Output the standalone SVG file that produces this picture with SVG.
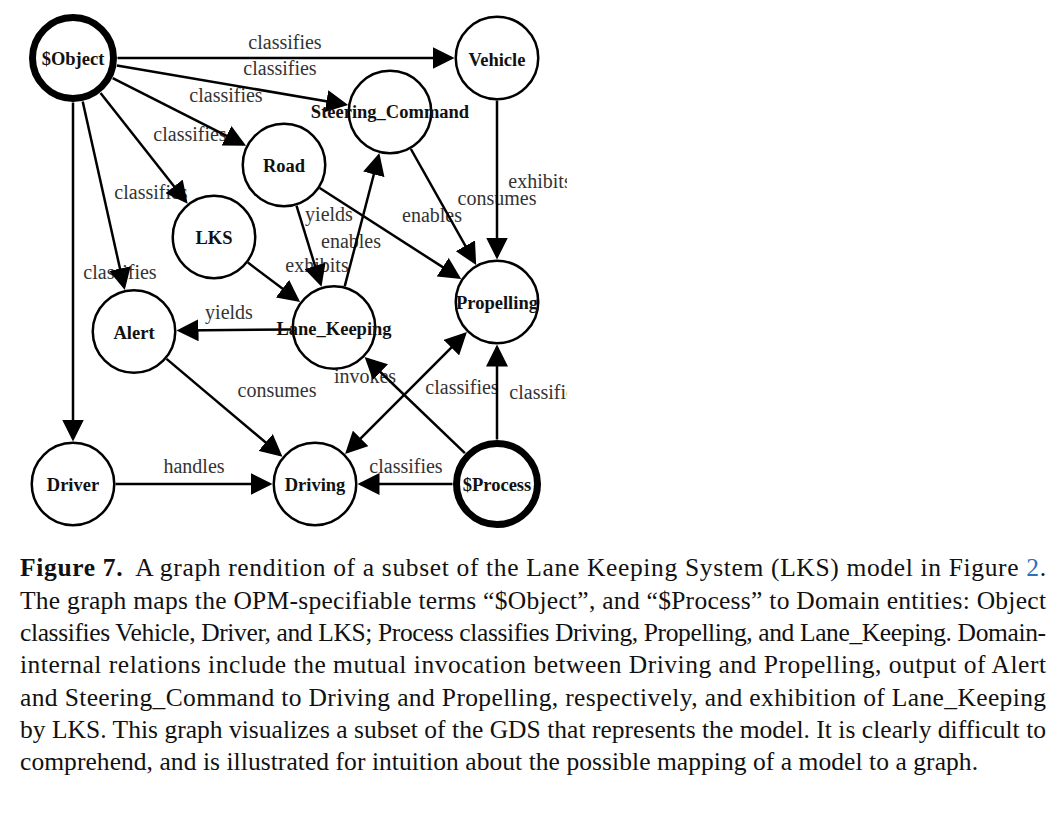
<svg xmlns="http://www.w3.org/2000/svg" width="1064" height="814" viewBox="0 0 1064 814">
<style>
.edge{stroke:#000;stroke-width:2.5;fill:none;marker-end:url(#arr)}
.lbl{font-family:"Liberation Serif","Times New Roman",serif;font-size:20px;fill:#333;text-anchor:middle}
.node circle{fill:#fff;stroke:#000;stroke-width:2.5}
.node.thick circle{stroke-width:7}
.node text{font-family:"Liberation Serif","Times New Roman",serif;font-size:18.5px;font-weight:bold;fill:#111;text-anchor:middle}
.cap{font-family:"Liberation Serif","Times New Roman",serif;font-size:25.5px;fill:#111}
</style>
<defs>
<marker id="arr" markerUnits="userSpaceOnUse" markerWidth="22" markerHeight="22" refX="19" refY="11" orient="auto"><path d="M0,0 L22,11 L0,22 z" fill="#000"/></marker>
<marker id="arrs" markerUnits="userSpaceOnUse" markerWidth="22" markerHeight="22" refX="19" refY="11" orient="auto-start-reverse"><path d="M0,0 L22,11 L0,22 z" fill="#000"/></marker>
<clipPath id="gclip"><rect x="0" y="0" width="567" height="535"/></clipPath>
</defs>
<rect width="1064" height="814" fill="#fff"/>
<g clip-path="url(#gclip)">
<g id="edge-labels">
<text class="lbl" x="285" y="49">classifies</text>
<text class="lbl" x="280" y="75">classifies</text>
<text class="lbl" x="226" y="102">classifies</text>
<text class="lbl" x="190" y="141">classifies</text>
<text class="lbl" x="151" y="199">classifies</text>
<text class="lbl" x="120" y="279">classifies</text>
<text class="lbl" x="229" y="319">yields</text>
<text class="lbl" x="329" y="221">yields</text>
<text class="lbl" x="351" y="248">enables</text>
<text class="lbl" x="317" y="272">exhibits</text>
<text class="lbl" x="432" y="222">enables</text>
<text class="lbl" x="497" y="205">consumes</text>
<text class="lbl" x="540" y="188">exhibits</text>
<text class="lbl" x="277" y="397">consumes</text>
<text class="lbl" x="365" y="383">invokes</text>
<text class="lbl" x="462" y="394">classifies</text>
<text class="lbl" x="546" y="399">classifies</text>
<text class="lbl" x="406" y="473">classifies</text>
<text class="lbl" x="194" y="473">handles</text>
</g>
<g id="connectors">
<line class="edge" x1="117.5" y1="58" x2="451.5" y2="58"/>
<line class="edge" x1="116.9" y1="65.5" x2="345.2" y2="104.4"/>
<line class="edge" x1="112.7" y1="78.1" x2="243.4" y2="144.4"/>
<line class="edge" x1="100.5" y1="93" x2="185.8" y2="201.3"/>
<line class="edge" x1="82.7" y1="101.4" x2="124.1" y2="287.1"/>
<line class="edge" x1="73" y1="102.5" x2="73" y2="438.5"/>
<line class="edge" x1="296.5" y1="205.6" x2="320.6" y2="284"/>
<line class="edge" x1="344.7" y1="286.4" x2="378.6" y2="156"/>
<line class="edge" x1="247.9" y1="262.6" x2="297.7" y2="300.1"/>
<line class="edge" x1="291.5" y1="329.5" x2="179.5" y2="330.5"/>
<line class="edge" x1="319.7" y1="188" x2="458.7" y2="277.4"/>
<line class="edge" x1="410.9" y1="149" x2="474.7" y2="262.4"/>
<line class="edge" x1="497" y1="100.5" x2="497" y2="256.5"/>
<line class="edge" x1="166.5" y1="358.9" x2="280.2" y2="454.7"/>
<line class="edge" x1="115.5" y1="484" x2="269.5" y2="484"/>
<line class="edge" x1="452.5" y1="484" x2="360.5" y2="484"/>
<line class="edge" x1="497" y1="439.5" x2="497" y2="347.5"/>
<line class="edge" x1="464.9" y1="453.2" x2="366.8" y2="359"/>
<line class="edge" x1="347.2" y1="451.8" x2="464.8" y2="334.2" style="marker-start:url(#arrs)"/>
</g>
<g id="n-object" class="node thick"><circle cx="73" cy="58" r="40.5"/><text x="73" y="65">$Object</text></g>
<g id="n-vehicle" class="node"><circle cx="497" cy="58" r="41.25"/><text x="497" y="66">Vehicle</text></g>
<g id="n-steering" class="node"><circle cx="390" cy="112" r="41.25"/><text x="390" y="118">Steering_Command</text></g>
<g id="n-road" class="node"><circle cx="284" cy="165" r="41.25"/><text x="284" y="172">Road</text></g>
<g id="n-lks" class="node"><circle cx="214" cy="237" r="41.25"/><text x="214" y="244">LKS</text></g>
<g id="n-alert" class="node"><circle cx="134" cy="331.5" r="41.25"/><text x="134" y="339">Alert</text></g>
<g id="n-lanekeeping" class="node"><circle cx="334" cy="327.5" r="41.25"/><text x="334" y="335">Lane_Keeping</text></g>
<g id="n-propelling" class="node"><circle cx="497" cy="302" r="41.25"/><text x="497" y="309">Propelling</text></g>
<g id="n-driver" class="node"><circle cx="73" cy="484" r="41.25"/><text x="73" y="491">Driver</text></g>
<g id="n-driving" class="node"><circle cx="315" cy="484" r="41.25"/><text x="315" y="491">Driving</text></g>
<g id="n-process" class="node thick"><circle cx="497" cy="484" r="40.5"/><text x="497" y="491">$Process</text></g>
</g>
<g id="caption">
<text class="cap" x="20" y="576" textLength="1026" lengthAdjust="spacing"><tspan font-weight="bold">Figure 7.</tspan><tspan dx="12">A graph rendition of a subset of the Lane Keeping System (LKS) model in Figure </tspan><tspan fill="#2f6fba">2</tspan>.</text>
<text class="cap" x="20" y="608.5" textLength="1026" lengthAdjust="spacing">The graph maps the OPM-specifiable terms “$Object”, and “$Process” to Domain entities: Object</text>
<text class="cap" x="20" y="641" textLength="1026" lengthAdjust="spacing">classifies Vehicle, Driver, and LKS; Process classifies Driving, Propelling, and Lane_Keeping. Domain-</text>
<text class="cap" x="20" y="673" textLength="1026" lengthAdjust="spacing">internal relations include the mutual invocation between Driving and Propelling, output of Alert</text>
<text class="cap" x="20" y="705.5" textLength="1026" lengthAdjust="spacing">and Steering_Command to Driving and Propelling, respectively, and exhibition of Lane_Keeping</text>
<text class="cap" x="20" y="738" textLength="1026" lengthAdjust="spacing">by LKS. This graph visualizes a subset of the GDS that represents the model. It is clearly difficult to</text>
<text class="cap" x="20" y="770" textLength="958" lengthAdjust="spacing">comprehend, and is illustrated for intuition about the possible mapping of a model to a graph.</text>
</g>
</svg>
